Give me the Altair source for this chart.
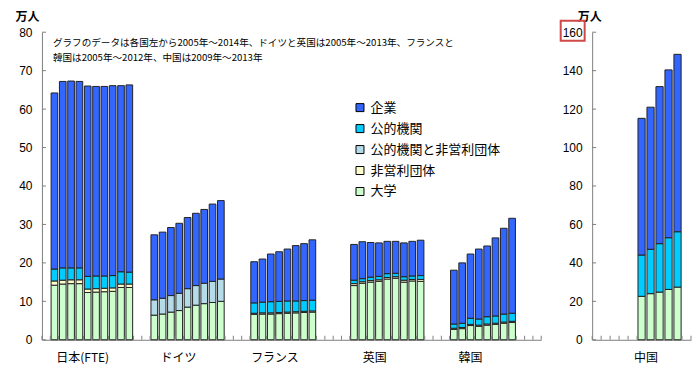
import altair as alt
import pandas as pd

# ---------------- data ----------------
sectors = ["企業", "公的機関", "公的機関と非営利団体", "非営利団体", "大学"]
colors = ["#3366FF", "#00CCFF", "#B4DCE8", "#FFFFCC", "#CCFFCC"]
stack_rank = {"大学": 0, "非営利団体": 1, "公的機関と非営利団体": 2, "公的機関": 3, "企業": 4}

countries = ["日本(FTE)", "ドイツ", "フランス", "英国", "韓国"]
first_slot = [1, 13, 25, 37, 49]
label_slot = [4.9, 16.4, 28.0, 40.0, 51.5]

japan = {
    "大学": [14.2, 14.5, 14.6, 14.6, 12.3, 12.4, 12.5, 12.6, 13.6, 13.6],
    "非営利団体": [1.1, 1.0, 1.0, 1.0, 0.9, 0.9, 0.9, 0.9, 0.9, 0.9],
    "公的機関": [3.1, 3.2, 3.1, 3.1, 3.3, 3.3, 3.2, 3.2, 3.2, 3.1],
    "企業": [45.8, 48.5, 48.6, 48.5, 49.5, 49.3, 49.3, 49.4, 48.4, 48.7],
}
germany = {
    "大学": [6.4, 6.7, 7.2, 7.6, 8.5, 9.0, 9.4, 9.7, 10.0],
    "公的機関と非営利団体": [4.0, 4.1, 4.3, 4.5, 4.8, 5.1, 5.3, 5.5, 5.8],
    "企業": [16.9, 17.2, 17.7, 18.2, 18.5, 18.8, 19.2, 20.1, 20.4],
}
france = {
    "大学": [6.6, 6.7, 6.7, 6.8, 6.9, 7.0, 7.1, 7.2],
    "非営利団体": [0.3, 0.3, 0.3, 0.3, 0.3, 0.3, 0.3, 0.3],
    "公的機関": [2.7, 2.8, 2.9, 2.9, 2.9, 2.8, 2.8, 2.8],
    "企業": [10.7, 11.2, 12.4, 12.9, 13.5, 14.4, 14.8, 15.7],
}
uk = {
    "大学": [14.1, 14.7, 15.0, 15.2, 15.8, 16.0, 15.0, 15.3, 15.2],
    "非営利団体": [0.5, 0.4, 0.4, 0.4, 0.4, 0.4, 0.5, 0.4, 0.5],
    "公的機関": [0.9, 0.8, 0.9, 0.9, 1.0, 0.9, 0.9, 0.9, 1.0],
    "企業": [9.3, 9.6, 9.0, 8.7, 8.4, 8.3, 8.8, 9.0, 9.2],
}
korea = {
    "大学": [2.7, 2.9, 3.7, 3.5, 3.8, 4.0, 4.3, 4.5],
    "非営利団体": [0.3, 0.3, 0.3, 0.3, 0.3, 0.3, 0.3, 0.3],
    "公的機関": [1.1, 1.1, 1.6, 1.6, 1.9, 1.9, 2.1, 2.1],
    "企業": [14.0, 15.7, 16.7, 18.2, 18.4, 20.3, 22.3, 24.7],
}
china = {
    "大学": [22.6, 24.0, 24.8, 26.2, 27.4],
    "公的機関": [21.5, 23.1, 25.2, 26.9, 28.8],
    "企業": [71.1, 73.9, 81.7, 87.3, 92.3],
}
china_first_slot = 5
china_label_slot = 6.0

left_y_ticks = [0, 10, 20, 30, 40, 50, 60, 70, 80]
right_y_ticks = [0, 20, 40, 60, 80, 100, 120, 140, 160]
left_x_ticks = list(range(0, 61))
right_x_ticks = list(range(0, 12))

note_lines = [
    "グラフのデータは各国左から2005年～2014年、ドイツと英国は2005年～2013年、フランスと",
    "韓国は2005年～2012年、中国は2009年～2013年",
]

# ---------------- tables ----------------
rows = []
for data, start in zip([japan, germany, france, uk, korea], first_slot):
    for sec, vals in data.items():
        for i, v in enumerate(vals):
            rows.append({"slot": start + i, "sector": sec, "value": v, "rank": stack_rank[sec]})
df_left = pd.DataFrame(rows)

rows = []
for sec, vals in china.items():
    for i, v in enumerate(vals):
        rows.append({"slot": china_first_slot + i, "sector": sec, "value": v, "rank": stack_rank[sec]})
df_right = pd.DataFrame(rows)

JP = "Noto Sans CJK JP"
NUM = "Liberation Sans"
AX = "#808080"
H = 308

color_scale = alt.Scale(domain=sectors, range=colors)


def x_axis():
    return alt.Axis(domain=True, domainColor=AX, ticks=False, labels=False, grid=False, title=None)


def y_axis(yvals, title_x):
    return alt.Axis(
        values=yvals, domain=True, domainColor=AX, ticks=False, tickSize=0,
        labelPadding=10, labelFont=NUM, labelFontSize=12, labelColor="black",
        grid=False, title="万人", titleAngle=0, titleX=title_x, titleY=-16,
        titleAlign="left", titleBaseline="middle", titleFont=JP, titleFontSize=12,
        titleFontWeight="bold", titleColor="black")


def panel(df, xs, ys, yvals, legend, title_x, xt, yt, labels, label_pos, extra):
    xa = x_axis()
    ya = y_axis(yvals, title_x)
    b = (
        alt.Chart(df)
        .transform_stack(stack="value", groupby=["slot"], as_=["v0", "v1"],
                         sort=[alt.SortField("rank", order="ascending")])
        .transform_calculate(xa="datum.slot + 0.1", xb="datum.slot + 0.9")
        .mark_rect(stroke="#222222", strokeWidth=1)
        .encode(
            x=alt.X("xa:Q", scale=xs, axis=xa),
            x2="xb:Q",
            y=alt.Y("v0:Q", scale=ys, axis=ya),
            y2="v1:Q",
            color=alt.Color("sector:N", scale=color_scale, legend=legend),
        )
    )
    xtick = alt.Chart(pd.DataFrame({"b": xt})).mark_rule(color=AX).encode(
        x=alt.X("b:Q", scale=xs, axis=xa), y=alt.value(H), y2=alt.value(H - 4))
    ytick = alt.Chart(pd.DataFrame({"t": yt})).mark_rule(color=AX).encode(
        y=alt.Y("t:Q", scale=ys, axis=ya), x=alt.value(0), x2=alt.value(4))
    lab = alt.Chart(pd.DataFrame({"label": labels, "pos": label_pos})).mark_text(
        font=JP, fontSize=12, baseline="middle", color="black").encode(
        x=alt.X("pos:Q", scale=xs, axis=xa), y=alt.value(H + 18), text="label:N")
    return alt.layer(b, xtick, ytick, lab, *extra)


# ---------------- left panel ----------------
xs_l = alt.Scale(domain=[0, 60], nice=False, zero=False)
ys_l = alt.Scale(domain=[0, 80], nice=False)
legend = alt.Legend(
    orient="none", legendX=312, legendY=69, title=None, symbolType="square", symbolSize=64,
    symbolStrokeColor="black", symbolStrokeWidth=1, labelFont=JP, labelFontSize=13,
    labelColor="black", rowPadding=7, labelOffset=4, values=sectors,
)
note = alt.Chart(pd.DataFrame({"a": [0]})).mark_text(
    font=JP, fontSize=9.6, align="left", baseline="middle", lineHeight=15, color="black").encode(
    x=alt.value(11), y=alt.value(11), text=alt.value(note_lines))
left = panel(df_left, xs_l, ys_l, left_y_ticks, legend, -27, left_x_ticks, left_y_ticks,
             countries, label_slot, [note]).properties(width=500, height=H)

# ---------------- right panel (China) ----------------
xs_r = alt.Scale(domain=[0, 11], nice=False, zero=False)
ys_r = alt.Scale(domain=[0, 160], nice=False)
box = alt.Chart(pd.DataFrame({"a": [0]})).mark_rect(
    fill="transparent", stroke="#D04848", strokeWidth=2).encode(
    x=alt.value(-31.5), x2=alt.value(-7.5), y=alt.value(-11.5), y2=alt.value(8.5))
right = panel(df_right, xs_r, ys_r, right_y_ticks, None, -15, right_x_ticks, right_y_ticks,
              ["中国"], [china_label_slot], [box]).properties(width=99, height=H)

chart = (
    alt.hconcat(left, right, spacing=51, bounds="flush",
                padding={"left": 7, "top": 2, "right": 0, "bottom": 0})
    .configure_view(stroke=None)
)

chart.save("out.html", embed_options={"renderer": "svg", "actions": False})
